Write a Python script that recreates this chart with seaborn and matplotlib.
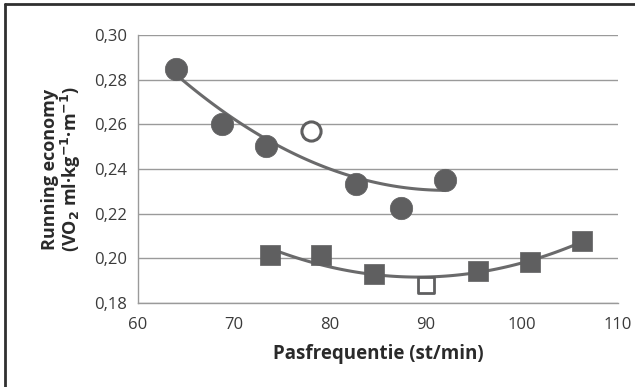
import numpy as np
import pandas as pd
import seaborn as sns
import matplotlib.pyplot as plt
from matplotlib.lines import Line2D
from matplotlib.ticker import FuncFormatter

# filled circles
circ_x = [64.0, 68.8, 73.3, 82.7, 87.4, 92.0]
circ_y = [0.2848, 0.2600, 0.2504, 0.2334, 0.2227, 0.2352]
# open circle
circ_open_x = [78.0]
circ_open_y = [0.2571]
# filled squares
sq_x = [73.8, 79.1, 84.6, 95.4, 100.8, 106.2]
sq_y = [0.2017, 0.2017, 0.1932, 0.1945, 0.1985, 0.2079]
# open square
sq_open_x = [90.0]
sq_open_y = [0.1882]

xticks = [60, 70, 80, 90, 100, 110]
yticks = [0.18, 0.20, 0.22, 0.24, 0.26, 0.28, 0.30]

# trendlines are fitted on all points of a group, open ones included
circ = pd.DataFrame({"x": circ_x + circ_open_x, "y": circ_y + circ_open_y})
sq = pd.DataFrame({"x": sq_x + sq_open_x, "y": sq_y + sq_open_y})

sns.set_style("white")
plt.rcParams["font.family"] = ["Open Sans", "DejaVu Sans"]

gray = "#5f5f60"
line_gray = "#6a6a6b"

fig = plt.figure(figsize=(6.35, 3.87), dpi=100)
ax = fig.add_axes([0.2173, 0.2171, 0.9732 - 0.2173, 0.9096 - 0.2171])

ax.set_axisbelow(True)
ax.grid(axis="y", color="#9a9a9a", lw=1.0)

sns.regplot(data=circ, x="x", y="y", order=2, ci=None, scatter=False,
            truncate=True, ax=ax, line_kws=dict(color=line_gray, lw=2.2))
sns.regplot(data=sq, x="x", y="y", order=2, ci=None, scatter=False,
            truncate=True, ax=ax, line_kws=dict(color=line_gray, lw=2.2))

sns.scatterplot(x=circ_x, y=circ_y, marker="o", s=260, color=gray,
                edgecolor=gray, linewidth=0.5, ax=ax, zorder=3)
sns.scatterplot(x=circ_open_x, y=circ_open_y, marker="o", s=190, color="white",
                edgecolor=gray, linewidth=2.2, ax=ax, zorder=3)
sns.scatterplot(x=sq_x, y=sq_y, marker="s", s=200, color=gray,
                edgecolor=gray, linewidth=0.5, ax=ax, zorder=3)
sns.scatterplot(x=sq_open_x, y=sq_open_y, marker="s", s=135, color="white",
                edgecolor=gray, linewidth=2.0, ax=ax, zorder=3)

ax.set_xlim(60, 110)
ax.set_ylim(0.18, 0.30)
ax.set_xticks(xticks)
ax.set_yticks(yticks)
ax.yaxis.set_major_formatter(FuncFormatter(lambda v, p: f"{v:.2f}".replace(".", ",")))
ax.tick_params(axis="both", labelsize=12, colors="#9a9a9a", labelcolor="#3a3a3a",
               length=5, width=1, direction="out")
ax.tick_params(axis="x", pad=5)
ax.tick_params(axis="y", pad=3)

for s in ["top", "right"]:
    ax.spines[s].set_visible(False)
for s in ["left", "bottom"]:
    ax.spines[s].set_color("#9a9a9a")
    ax.spines[s].set_linewidth(1)

ax.set_xlabel("Pasfrequentie (st/min)", fontsize=13.5, fontweight="bold",
              color="#2a2a2a", labelpad=8)
ax.set_ylabel("Running economy\n(VO$_\\mathbf{2}$ ml·kg$^\\mathbf{-1}$·m$^\\mathbf{-1}$)",
              fontsize=13, fontweight="bold", color="#2a2a2a", labelpad=8,
              linespacing=1.0)

# outer frame (top and left edges visible)
fig.add_artist(Line2D([0.008, 1.0], [0.989, 0.989], transform=fig.transFigure,
                      color="#303030", lw=2))
fig.add_artist(Line2D([0.008, 0.008], [0.0, 0.989], transform=fig.transFigure,
                      color="#303030", lw=2))

fig.savefig("out.png", dpi=100)
